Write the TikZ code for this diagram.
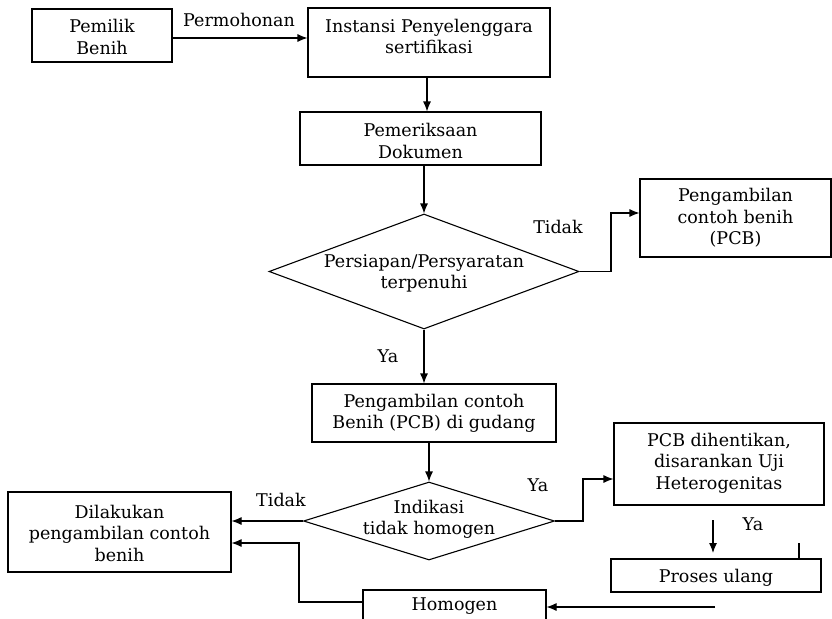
\documentclass[tikz,border=0pt]{standalone}
\usepackage{fontspec}
\setmainfont{DejaVu Serif}
\usetikzlibrary{arrows.meta,shapes.geometric}
\begin{document}
\begin{tikzpicture}[x=1pt,y=-1pt,
  font=\fontsize{17.5}{21.5}\selectfont,
  box/.style={draw,line width=1.1pt,inner sep=0pt,align=center},
  dia/.style={draw,diamond,line width=1.1pt,inner sep=0pt},
  txt/.style={inner sep=0pt,align=center},
  arr/.style={line width=1.1pt,-{Latex[length=10pt,width=8pt]}},
  ln/.style={line width=1.1pt}]
\useasboundingbox[fill=white] (0,0) rectangle (832,618);
% boxes
\node[box,minimum width=140,minimum height=53] (pemilik) at (102,35.5) {};
\node[txt] at (102,37) {Pemilik\\Benih};
\node[box,minimum width=242,minimum height=69] (inst) at (429,42.5) {};
\node[txt] at (429,36.5) {Instansi Penyelenggara\\sertifikasi};
\node[box,minimum width=241,minimum height=53] (periksa) at (420.5,138.5) {};
\node[txt] at (420.5,141) {Pemeriksaan\\Dokumen};
\node[dia,minimum width=310,minimum height=115] (dia1) at (424,271.5) {};
\node[txt] at (424,273.5) {Persiapan/Persyaratan\\terpenuhi};
\node[box,minimum width=191,minimum height=78] (pcb1) at (735.5,218) {};
\node[txt] at (735.5,218) {Pengambilan\\contoh benih\\(PCB)};
\node[box,minimum width=244,minimum height=58] (gudang) at (434,413) {};
\node[txt] at (434,413.5) {Pengambilan contoh\\Benih (PCB) di gudang};
\node[dia,minimum width=251,minimum height=78] (dia2) at (429,521) {};
\node[txt] at (429,519.5) {Indikasi\\tidak homogen};
\node[box,minimum width=223,minimum height=80] (dilakukan) at (119.5,532) {};
\node[txt] at (119.5,533) {Dilakukan\\pengambilan contoh\\benih};
\node[box,minimum width=210,minimum height=82] (henti) at (719,464) {};
\node[txt] at (719,463) {PCB dihentikan,\\disarankan Uji\\Heterogenitas};
\node[box,minimum width=210,minimum height=33] (proses) at (716,575.5) {};
\node[txt] at (716,578) {Proses ulang};
\node[box,minimum width=183,minimum height=40] (homogen) at (454.5,610) {};
\node[txt] at (454.5,606) {Homogen};
% helper coordinates
\coordinate (c0) at (0,38);
\coordinate (c1) at (427,0);
\coordinate (c2) at (611,213);
\coordinate (c3) at (583,479);
\coordinate (c4) at (299,543);
\coordinate (c5) at (713,520);
\coordinate (c6) at (713,553);
\coordinate (c7) at (799,543);
\coordinate (c8) at (715,607);
\coordinate (c9) at (0,602);
% connectors
\draw[arr] (pemilik.east |- c0) -- (inst.west |- c0);
\node[txt] at (239,20) {Permohonan};
\draw[arr] (inst.south -| c1) -- (periksa.north -| c1);
\draw[arr] (periksa.south -| dia1.north) -- (dia1.north);
\draw[arr] (dia1.east) -- (c2 |- dia1.east) -- (c2) -- (pcb1.west |- c2);
\node[txt] at (558,227) {Tidak};
\draw[arr] (dia1.south) -- (dia1.south |- gudang.north);
\node[txt] at (388,356) {Ya};
\draw[arr] (gudang.south -| dia2.north) -- (dia2.north);
\draw[arr] (dia2.west) -- (dia2.west -| dilakukan.east);
\node[txt] at (281,500) {Tidak};
\draw[arr] (dia2.east) -- (c3 |- dia2.east) -- (c3) -- (henti.west |- c3);
\node[txt] at (538,485) {Ya};
\draw[arr] (homogen.west |- c9) -- (c4 |- c9) -- (c4) -- (dilakukan.east |- c4);
\draw[arr] (c5) -- (c6);
\node[txt] at (753,524) {Ya};
\draw[ln] (c7) -- (proses.north -| c7);
\draw[arr] (c8) -- (homogen.east |- c8);
\end{tikzpicture}
\end{document}
